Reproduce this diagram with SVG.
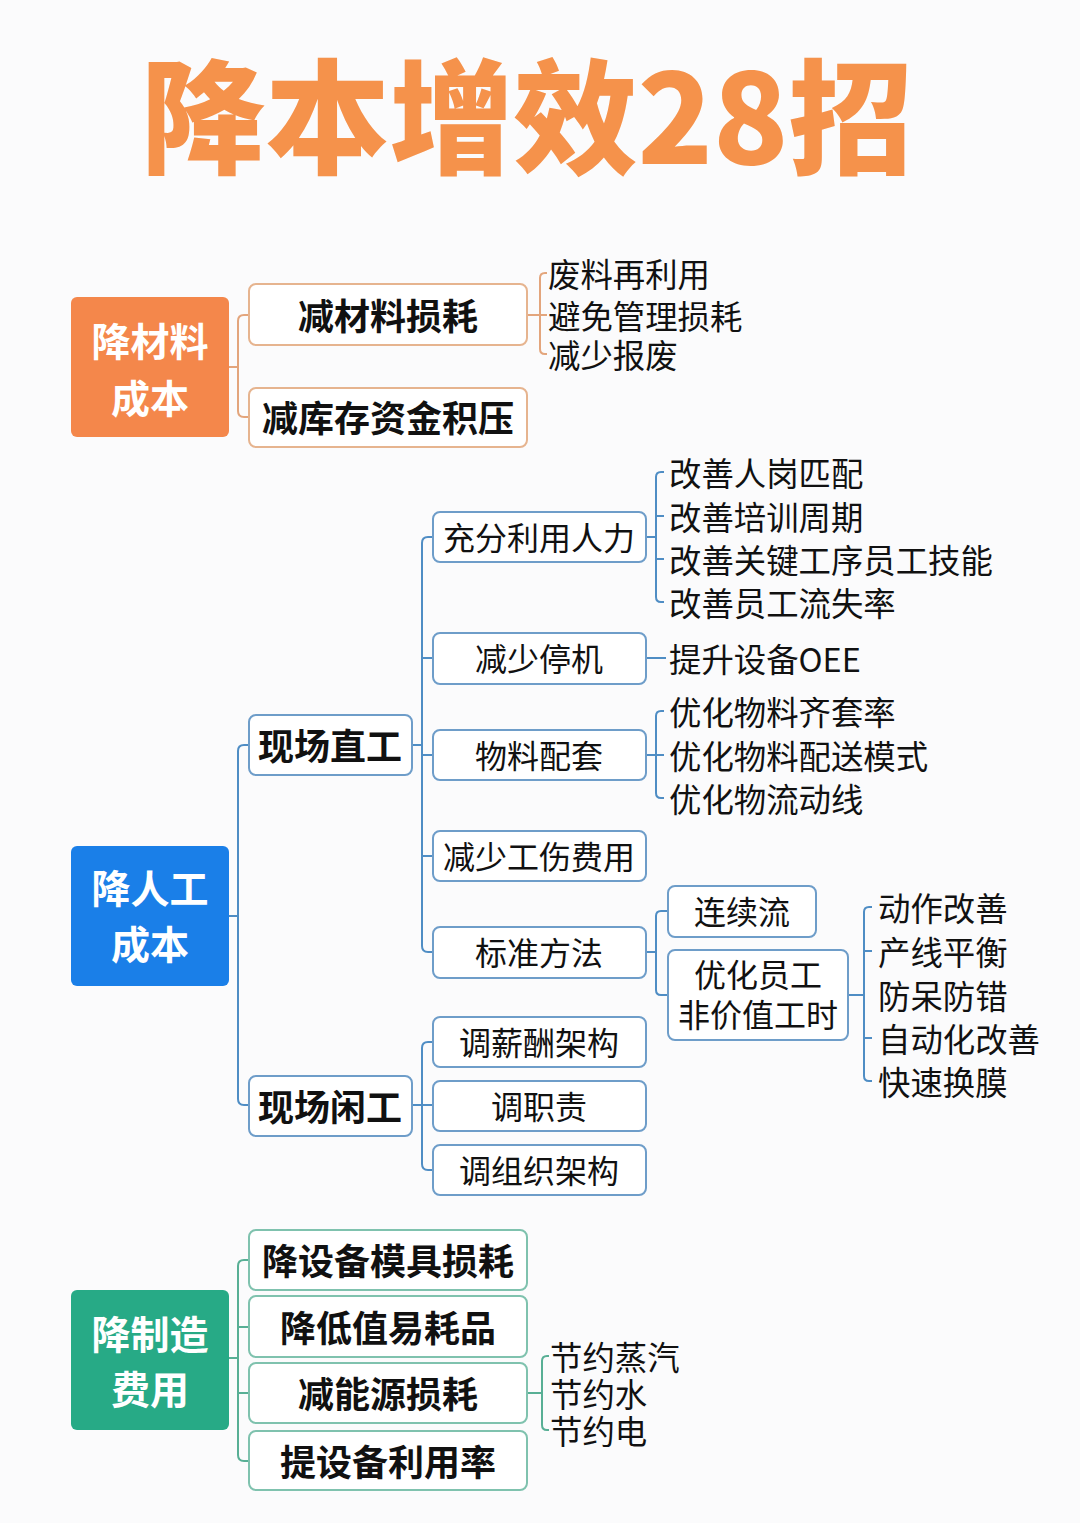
<svg xmlns="http://www.w3.org/2000/svg" width="1080" height="1523" viewBox="0 0 1080 1523">
<style>
text{font-family:"Noto Sans CJK SC","Noto Sans",sans-serif;dominant-baseline:central}
.title{font-size:124px;font-weight:900;fill:#F5924B;text-anchor:middle}
.root{font-size:39px;font-weight:700;fill:#FFFFFF;text-anchor:middle}
.b1{font-size:36px;font-weight:700;fill:#111;text-anchor:middle}
.b2{font-size:32px;font-weight:400;fill:#111;text-anchor:middle}
.leaf{font-size:32.4px;font-weight:400;fill:#111}
.bx1{fill:#FFFFFF;stroke:#E6B48F;stroke-width:2}
.bx2{fill:#FFFFFF;stroke:#6E9DC9;stroke-width:2}
.bx3{fill:#FFFFFF;stroke:#7FC2AE;stroke-width:2}
.c1{fill:none;stroke:#E3A57C;stroke-width:2}
.c2{fill:none;stroke:#4F8DC4;stroke-width:2}
.c3{fill:none;stroke:#58AF95;stroke-width:2}
</style>
<rect x="0" y="0" width="1080" height="1523" fill="#FBFBFC"/>
<text class="title" x="527" y="110">降本增效28招</text>

<g id="connectors">
  <path class="c1" d="M229,367 H238 M248,315 H244 Q238,315 238,321 V411 Q238,417 244,417 H248"/>
  <path class="c1" d="M527,315 H540 M547,273 H545 Q540,273 540,278 V349 Q540,354 545,354 H547 M540,315 H547"/>

  <path class="c2" d="M229,916 H238 M249,745 H244 Q238,745 238,751 V1099 Q238,1105 244,1105 H249"/>
  <path class="c2" d="M412,745 H422 M433,537 H428 Q422,537 422,543 V946 Q422,952 428,952 H433 M422,658 H433 M422,755 H433 M422,856 H433"/>
  <path class="c2" d="M412,1105 H433 M433,1042 H428 Q422,1042 422,1048 V1164 Q422,1170 428,1170 H433"/>
  <path class="c2" d="M646,537 H656 M664,472 H661 Q656,472 656,477 V597 Q656,602 661,602 H664 M656,516 H664 M656,559 H664"/>
  <path class="c2" d="M646,658 H666"/>
  <path class="c2" d="M646,755 H656 M664,711 H661 Q656,711 656,716 V793 Q656,798 661,798 H664 M656,755 H664"/>
  <path class="c2" d="M646,952 H656 M668,911 H661 Q656,911 656,916 V990 Q656,995 661,995 H668"/>
  <path class="c2" d="M848,995 H864 M872,907 H869 Q864,907 864,912 V1076 Q864,1081 869,1081 H872 M864,951 H872 M864,1038 H872"/>

  <path class="c3" d="M229,1358 H238 M249,1260 H244 Q238,1260 238,1266 V1455 Q238,1461 244,1461 H249 M238,1327 H249 M238,1393 H249"/>
  <path class="c3" d="M527,1393 H542 M549,1356 H547 Q542,1356 542,1361 V1425 Q542,1430 547,1430 H549"/>
</g>

<g id="root-material">
  <rect x="71" y="297" width="158" height="140" rx="6" fill="#F4874B"/>
  <text class="root" x="150" y="339">降材料</text>
  <text class="root" x="150" y="396">成本</text>
</g>
<g id="n-jianshaocailiao">
  <rect class="bx1" x="249" y="284" width="278" height="61" rx="7"/>
  <text class="b1" x="388" y="314">减材料损耗</text>
</g>
<g id="n-jiankucun">
  <rect class="bx1" x="249" y="388" width="278" height="59" rx="7"/>
  <text class="b1" x="388" y="416">减库存资金积压</text>
</g>
<g id="leaves-material">
  <text class="leaf" x="548" y="272">废料再利用</text>
  <text class="leaf" x="548" y="314">避免管理损耗</text>
  <text class="leaf" x="548" y="353">减少报废</text>
</g>

<g id="root-labor">
  <rect x="71" y="846" width="158" height="140" rx="6" fill="#1A7FE8"/>
  <text class="root" x="150" y="886">降人工</text>
  <text class="root" x="150" y="942">成本</text>
</g>
<g id="n-zhigong">
  <rect class="bx2" x="249" y="715" width="163" height="60" rx="7"/>
  <text class="b1" x="330" y="744">现场直工</text>
</g>
<g id="n-xiangong">
  <rect class="bx2" x="249" y="1076" width="163" height="60" rx="7"/>
  <text class="b1" x="330" y="1105">现场闲工</text>
</g>
<g id="n-chongfen">
  <rect class="bx2" x="433" y="512" width="213" height="50" rx="7"/>
  <text class="b2" x="539" y="536">充分利用人力</text>
</g>
<g id="n-tingji">
  <rect class="bx2" x="433" y="633" width="213" height="51" rx="7"/>
  <text class="b2" x="539" y="657">减少停机</text>
</g>
<g id="n-wuliao">
  <rect class="bx2" x="433" y="730" width="213" height="50" rx="7"/>
  <text class="b2" x="539" y="754">物料配套</text>
</g>
<g id="n-gongshang">
  <rect class="bx2" x="433" y="831" width="213" height="50" rx="7"/>
  <text class="b2" x="539" y="855">减少工伤费用</text>
</g>
<g id="n-biaozhun">
  <rect class="bx2" x="433" y="927" width="213" height="51" rx="7"/>
  <text class="b2" x="539" y="951">标准方法</text>
</g>
<g id="n-xinchou">
  <rect class="bx2" x="433" y="1017" width="213" height="50" rx="7"/>
  <text class="b2" x="539" y="1041">调薪酬架构</text>
</g>
<g id="n-zhize">
  <rect class="bx2" x="433" y="1081" width="213" height="50" rx="7"/>
  <text class="b2" x="539" y="1105">调职责</text>
</g>
<g id="n-zuzhi">
  <rect class="bx2" x="433" y="1145" width="213" height="50" rx="7"/>
  <text class="b2" x="539" y="1169">调组织架构</text>
</g>
<g id="n-lianxu">
  <rect class="bx2" x="668" y="886" width="148" height="51" rx="7"/>
  <text class="b2" x="742" y="910">连续流</text>
</g>
<g id="n-youhua">
  <rect class="bx2" x="668" y="950" width="180" height="90" rx="7"/>
  <text class="b2" x="758" y="973">优化员工</text>
  <text class="b2" x="758" y="1013">非价值工时</text>
</g>
<g id="leaves-labor">
  <text class="leaf" x="669" y="471">改善人岗匹配</text>
  <text class="leaf" x="669" y="515">改善培训周期</text>
  <text class="leaf" x="669" y="558">改善关键工序员工技能</text>
  <text class="leaf" x="669" y="601">改善员工流失率</text>
  <text class="leaf" x="669" y="657">提升设备OEE</text>
  <text class="leaf" x="669" y="710">优化物料齐套率</text>
  <text class="leaf" x="669" y="754">优化物料配送模式</text>
  <text class="leaf" x="669" y="797">优化物流动线</text>
  <text class="leaf" x="878" y="906">动作改善</text>
  <text class="leaf" x="878" y="950">产线平衡</text>
  <text class="leaf" x="878" y="994">防呆防错</text>
  <text class="leaf" x="878" y="1037">自动化改善</text>
  <text class="leaf" x="878" y="1080">快速换膜</text>
</g>

<g id="root-mfg">
  <rect x="71" y="1290" width="158" height="140" rx="6" fill="#27AA86"/>
  <text class="root" x="150" y="1332">降制造</text>
  <text class="root" x="150" y="1387">费用</text>
</g>
<g id="n-moju">
  <rect class="bx3" x="249" y="1230" width="278" height="60" rx="7"/>
  <text class="b1" x="388" y="1259">降设备模具损耗</text>
</g>
<g id="n-dizhi">
  <rect class="bx3" x="249" y="1296" width="278" height="61" rx="7"/>
  <text class="b1" x="388" y="1326">降低值易耗品</text>
</g>
<g id="n-nengyuan">
  <rect class="bx3" x="249" y="1363" width="278" height="60" rx="7"/>
  <text class="b1" x="388" y="1392">减能源损耗</text>
</g>
<g id="n-liyong">
  <rect class="bx3" x="249" y="1431" width="278" height="59" rx="7"/>
  <text class="b1" x="388" y="1460">提设备利用率</text>
</g>
<g id="leaves-mfg">
  <text class="leaf" x="550" y="1355">节约蒸汽</text>
  <text class="leaf" x="550" y="1392">节约水</text>
  <text class="leaf" x="550" y="1429">节约电</text>
</g>
</svg>
